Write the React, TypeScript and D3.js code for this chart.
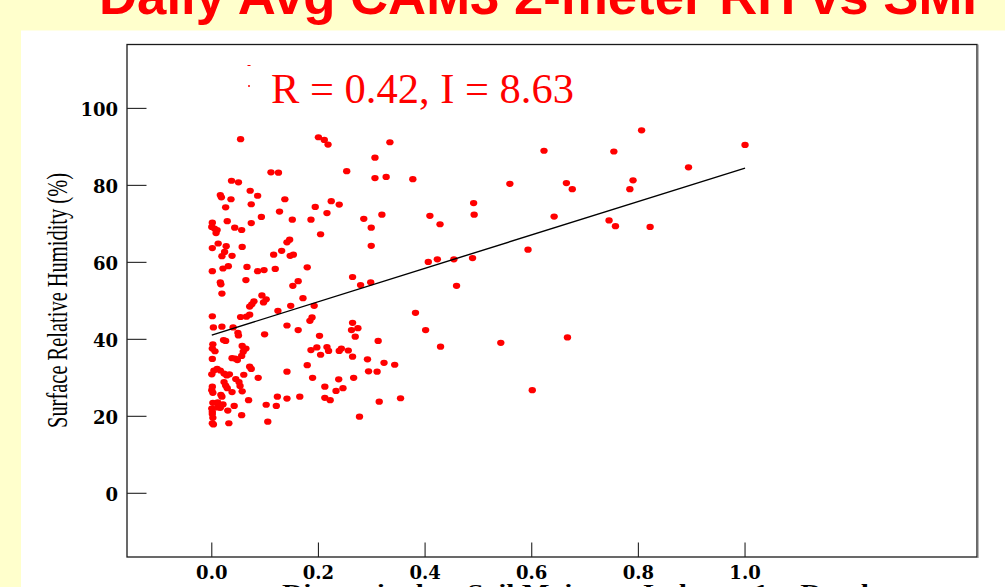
import React from "react";
import * as d3 from "d3";

// Daily mean soil moisture index (dimensionless) and 2 m relative humidity (%)
const smi: number[] = [
  0.054, 0.2, 0.211, 0.218, 0.334, 0.306, 0.253, 0.111, 0.125, 0.306,
  0.327, 0.377, 0.037, 0.05, 0.072, 0.016, 0.018, 0.086, 0.036, 0.137,
  0.026, 0.074, 0.224, 0.239, 0.194, 0.127, 0.216, 0.093, 0.151, 0.186,
  0.285, 0.319, 0.409, 0.029, 0.001, 0.0, 0.005, 0.01, 0.008, 0.043,
  0.056, 0.074, 0.299, 0.204, 0.012, 0.001, 0.027, 0.057, 0.141, 0.146,
  0.131, 0.299, 0.024, 0.019, 0.038, 0.116, 0.147, 0.153, 0.031, 0.021,
  0.066, 0.001, 0.086, 0.098, 0.119, 0.179, 0.264, 0.406, 0.428, 0.491,
  0.492, 0.559, 0.623, 0.665, 0.676, 0.642, 0.754, 0.806, 0.79, 0.784,
  0.745, 0.757, 0.822, 0.894, 1.0, 0.423, 0.454, 0.489, 0.593, 0.459,
  0.382, 0.401, 0.429, 0.542, 0.667, 0.601, 0.312, 0.323, 0.343, 0.314,
  0.354, 0.016, 0.017, 0.064, 0.152, 0.162, 0.279, 0.298, 0.019, 0.094,
  0.102, 0.097, 0.079, 0.075, 0.071, 0.171, 0.148, 0.192, 0.124, 0.001,
  0.054, 0.065, 0.071, 0.188, 0.184, 0.264, 0.003, 0.019, 0.04, 0.141,
  0.162, 0.262, 0.274, 0.049, 0.05, 0.099, 0.269, 0.202, 0.002, 0.001,
  0.006, 0.022, 0.026, 0.057, 0.064, 0.059, 0.186, 0.197, 0.216, 0.219,
  0.243, 0.239, 0.256, 0.204, 0.001, 0.038, 0.044, 0.048, 0.056, 0.264,
  0.292, 0.179, 0.071, 0.074, 0.0, 0.004, 0.01, 0.016, 0.023, 0.028,
  0.033, 0.141, 0.294, 0.31, 0.087, 0.06, 0.189, 0.238, 0.266, 0.045,
  0.051, 0.053, 0.023, 0.026, 0.029, 0.001, 0.0, 0.002, 0.212, 0.246,
  0.233, 0.038, 0.017, 0.019, 0.057, 0.123, 0.141, 0.165, 0.212, 0.222,
  0.069, 0.002, 0.011, 0.021, 0.042, 0.102, 0.121, 0.0, 0.011, 0.016,
  0.03, 0.001, 0.002, 0.056, 0.277, 0.001, 0.003, 0.032, 0.105, 0.001,
];

const rh: number[] = [
  92.0, 92.5, 91.8, 90.6, 91.2, 87.2, 83.7, 83.4, 83.3, 81.9,
  82.2, 81.6, 81.2, 80.8, 78.6, 77.5, 76.9, 77.3, 76.4, 76.4,
  74.3, 75.1, 75.9, 75.0, 74.4, 73.2, 72.8, 71.8, 71.1, 71.1,
  71.3, 72.4, 72.1, 70.7, 70.3, 69.2, 68.8, 68.4, 67.6, 69.0,
  68.4, 70.2, 69.0, 67.3, 64.9, 63.7, 64.2, 64.0, 65.2, 65.9,
  63.0, 64.3, 62.7, 61.6, 61.7, 62.0, 61.7, 62.0, 59.0, 58.4,
  58.8, 57.7, 57.7, 58.0, 58.3, 58.7, 56.2, 60.1, 69.9, 75.4,
  72.4, 80.4, 89.0, 80.6, 79.0, 71.9, 88.8, 94.3, 81.3, 79.0,
  70.9, 69.4, 69.2, 84.7, 90.5, 60.8, 60.8, 61.1, 63.3, 53.9,
  46.9, 42.4, 38.1, 39.1, 40.5, 26.8, 39.6, 33.9, 33.4, 23.8,
  24.7, 54.8, 54.3, 55.4, 53.9, 55.1, 54.1, 54.8, 51.9, 51.4,
  50.4, 49.6, 49.9, 49.1, 48.5, 50.7, 48.7, 48.7, 47.4, 46.0,
  45.8, 45.9, 46.4, 45.7, 44.8, 44.3, 43.1, 43.3, 43.1, 43.6,
  42.4, 42.4, 42.9, 41.7, 41.0, 41.3, 40.7, 40.9, 38.7, 37.6,
  36.9, 39.8, 39.6, 38.3, 37.6, 36.8, 37.2, 37.9, 38.0, 37.0,
  37.6, 37.0, 37.1, 36.0, 34.9, 35.1, 35.0, 34.6, 35.7, 35.5,
  34.8, 33.3, 32.9, 32.3, 30.9, 31.9, 32.3, 31.9, 31.1, 30.6,
  30.9, 31.6, 31.7, 31.6, 30.0, 30.8, 30.0, 29.6, 30.0, 29.7,
  28.9, 27.9, 28.9, 28.0, 27.3, 27.7, 26.8, 26.1, 27.7, 27.3,
  26.6, 26.3, 25.6, 25.1, 26.5, 25.1, 24.6, 25.1, 24.8, 24.2,
  24.2, 23.5, 23.6, 23.1, 22.7, 23.0, 22.7, 22.0, 22.3, 22.2,
  21.5, 20.6, 19.6, 20.3, 19.9, 18.2, 17.9, 18.2, 18.6, 21.2,
];

// Least-squares line drawn across the observed SMI range
const fitIntercept = 41.1;
const fitSlope = 43.4;
const fitRange: [number, number] = [0, 1];

const xTicks: number[] = [0, 0.2, 0.4, 0.6, 0.8, 1.0];
const yTicks: number[] = [0, 20, 40, 60, 80, 100];
const xDomain: [number, number] = [-0.159, 1.435];
const yDomain: [number, number] = [-16.55, 116.6];

const titleText = "Daily Avg CAM3 2-meter RH vs SMI";
const statText = "R = 0.42, I = 8.63";
const yLabel = "Surface Relative Humidity (%)";
const xLabel = "Dimensionless Soil Moisture Index to 1m Depth";

const W = 1005;
const H = 587;
const plot = { left: 127, right: 977, top: 44.5, bottom: 557 };

export default function App() {
  const x = d3.scaleLinear().domain(xDomain).range([plot.left, plot.right]);
  const y = d3.scaleLinear().domain(yDomain).range([plot.bottom, plot.top]);

  const points = smi.map((s, i) => ({ s, r: rh[i] }));
  const fitLine = d3
    .line<number>()
    .x((d) => x(d))
    .y((d) => y(fitIntercept + fitSlope * d))(fitRange);

  const serif = "'Liberation Serif', 'Times New Roman', serif";
  const tickFont = "'DejaVu Serif', serif";

  return (
    <div
      style={{
        position: "absolute",
        left: 0,
        top: 0,
        width: W,
        height: H,
        overflow: "hidden",
      }}
    >
      <svg width={W} height={H} style={{ display: "block" }}>
        <rect x={0} y={0} width={W} height={H} fill="#FFFFCC" />
        <text
          x={99}
          y={14}
          fontFamily="'Liberation Sans', Arial, sans-serif"
          fontWeight="bold"
          fontSize={52.5}
          fill="#FF0000"
          textLength={878}
          lengthAdjust="spacingAndGlyphs"
        >
          {titleText}
        </text>
        <rect x={21} y={30.5} width={W - 21} height={H - 30.5} fill="#FFFFFF" />

        {/* plot frame */}
        <rect
          x={plot.left}
          y={plot.top}
          width={plot.right - plot.left}
          height={plot.bottom - plot.top}
          fill="none"
          stroke="#1a1a1a"
          strokeWidth={1.3}
        />
        <line
          x1={plot.right + 1}
          x2={plot.right + 1}
          y1={plot.top}
          y2={plot.bottom + 1}
          stroke="#777"
          strokeWidth={1}
        />

        {/* y axis */}
        {yTicks.map((t) => (
          <g key={`y${t}`}>
            <line
              x1={plot.left}
              x2={plot.left + 19.5}
              y1={y(t)}
              y2={y(t)}
              stroke="#222"
              strokeWidth={1.1}
            />
            <text
              x={plot.left - 9}
              y={y(t) + 7.5}
              textAnchor="end"
              fontFamily={tickFont}
              fontWeight="bold"
              fontSize={18}
              fill="#000"
            >
              {t}
            </text>
          </g>
        ))}

        {/* x axis */}
        {xTicks.map((t) => (
          <g key={`x${t}`}>
            <line
              x1={x(t)}
              x2={x(t)}
              y1={plot.bottom}
              y2={plot.bottom - 14.5}
              stroke="#222"
              strokeWidth={1.1}
            />
            <text
              x={x(t)}
              y={579.3}
              textAnchor="middle"
              fontFamily={tickFont}
              fontWeight="bold"
              fontSize={18}
              fill="#000"
            >
              {t.toFixed(1)}
            </text>
          </g>
        ))}

        <text
          transform={`translate(66.5, 300.5) rotate(-90)`}
          textAnchor="middle"
          fontFamily={serif}
          fontSize={29}
          fill="#000"
          textLength={255}
          lengthAdjust="spacingAndGlyphs"
        >
          {yLabel}
        </text>
        <text
          x={282}
          y={599}
          fontFamily={serif}
          fontWeight="bold"
          fontSize={21}
          fill="#000"
          textLength={595}
          lengthAdjust="spacingAndGlyphs"
        >
          {xLabel}
        </text>

        {/* daily points */}
        {points.map((p, i) => (
          <ellipse
            key={i}
            cx={x(p.s)}
            cy={y(p.r)}
            rx={3.7}
            ry={3.1}
            fill="#FF0000"
          />
        ))}

        {fitLine && (
          <path d={fitLine} fill="none" stroke="#000" strokeWidth={1.4} />
        )}

        <line x1={247.5} x2={250.5} y1={65.5} y2={65.5} stroke="#FF0000" strokeWidth={1} />
        <line x1={248} x2={250} y1={86} y2={86} stroke="#FF0000" strokeWidth={1.5} />

        <text
          x={271}
          y={103.3}
          fontFamily={serif}
          fontSize={42.5}
          fill="#FF0000"
        >
          {statText}
        </text>
      </svg>
    </div>
  );
}
